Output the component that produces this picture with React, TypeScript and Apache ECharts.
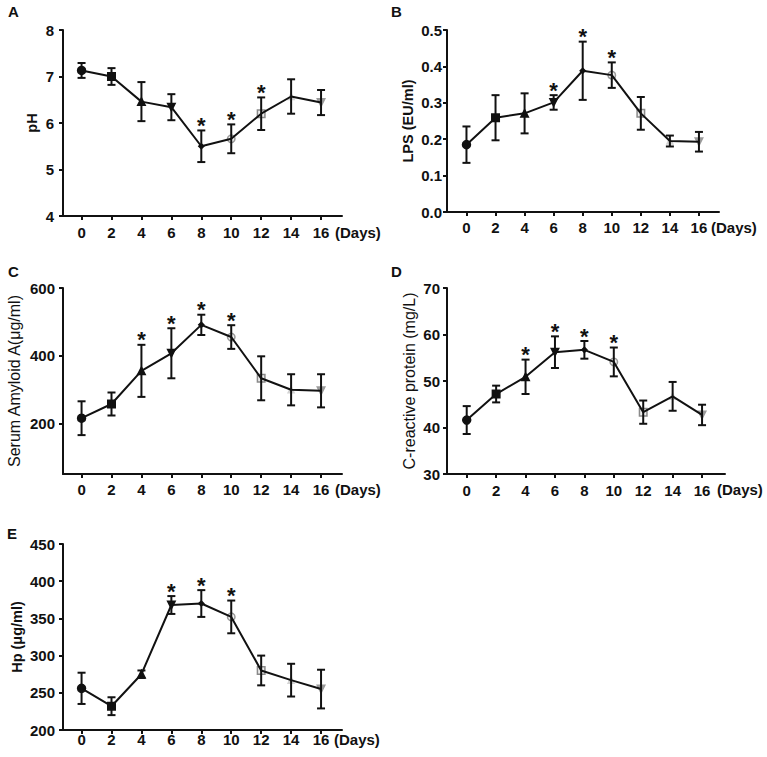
import React, { useEffect, useRef } from "react";
import * as echarts from "echarts";

// ---------- data ----------
const days = [0, 2, 4, 6, 8, 10, 12, 14, 16];

const phMean = [7.13, 7.0, 6.46, 6.34, 5.5, 5.66, 6.2, 6.57, 6.44];
const phErr = [0.16, 0.18, 0.42, 0.28, 0.34, 0.31, 0.35, 0.37, 0.27];
const phSig = [8, 10, 12];

const lpsMean = [0.185, 0.259, 0.271, 0.301, 0.388, 0.376, 0.271, 0.195, 0.193];
const lpsErr = [0.05, 0.062, 0.055, 0.02, 0.08, 0.035, 0.045, 0.015, 0.027];
const lpsSig = [6, 8, 10];

const saaMean = [215, 257, 355, 407, 491, 455, 333, 299, 296];
const saaErr = [50, 34, 77, 74, 30, 35, 65, 46, 49];
const saaSig = [4, 6, 8, 10];

const crpMean = [41.6, 47.2, 50.9, 56.2, 56.7, 54.1, 43.3, 46.7, 42.7];
const crpErr = [3.0, 1.8, 3.7, 3.4, 1.9, 3.1, 2.5, 3.1, 2.2];
const crpSig = [4, 6, 8, 10];

const hpMean = [256, 232, 275, 368, 370, 352, 280, 267, 255];
const hpErr = [21, 12, 5, 12, 18, 22, 20, 22, 26];
const hpSig = [6, 8, 10];

const phTicks = [4, 5, 6, 7, 8];
const lpsTicks = [0, 0.1, 0.2, 0.3, 0.4, 0.5];
const saaTicks = [200, 400, 600];
const crpTicks = [30, 40, 50, 60, 70];
const hpTicks = [200, 250, 300, 350, 400, 450];

// ---------- marker styles (per day) ----------
const markerStyles = [
  { symbol: "circle", size: 8, rotate: 0, fill: "#111", stroke: "#111" },
  { symbol: "rect", size: 7.5, rotate: 0, fill: "#111", stroke: "#111" },
  { symbol: "triangle", size: 7.5, rotate: 0, fill: "#111", stroke: "#111" },
  { symbol: "triangle", size: 7.5, rotate: 180, fill: "#111", stroke: "#111" },
  { symbol: "diamond", size: 5, rotate: 0, fill: "#111", stroke: "#111" },
  { symbol: "circle", size: 7.5, rotate: 0, fill: "#f2f2f2", stroke: "#9a9a9a" },
  { symbol: "rect", size: 7.5, rotate: 0, fill: "#eeeeee", stroke: "#8a8a8a" },
  { symbol: "triangle", size: 6, rotate: 0, fill: "#d4d4d4", stroke: "#d4d4d4" },
  { symbol: "triangle", size: 7.5, rotate: 180, fill: "#9a9a9a", stroke: "#9a9a9a" },
];

const FONT = '"Liberation Sans", Arial, sans-serif';
const INK = "#111";

type Panel = {
  letter: string;
  mean: number[];
  err: number[];
  sig: number[];
  ticks: number[];
  name: string;
  nameBold: boolean;
  nameSize: number;
  nameGap: number;
  ymin: number;
  ymax: number;
  decimals: number;
  left: number;
  top: number;
  width: number;
  height: number;
  xmin: number;
  xmax: number;
  xLabelMargin: number;
  yLabelMargin: number;
  letterPos: [number, number];
  daysPos: [number, number];
};

const panels: Panel[] = [
  {
    letter: "A", mean: phMean, err: phErr, sig: phSig, ticks: phTicks,
    name: "pH", nameBold: true, nameSize: 14.5, nameGap: 24,
    ymin: 4, ymax: 8, decimals: 0,
    left: 63, top: 30, width: 279, height: 186, xmin: -1.24, xmax: 17.4,
    xLabelMargin: 9, yLabelMargin: 9, letterPos: [8, 12], daysPos: [335, 232],
  },
  {
    letter: "B", mean: lpsMean, err: lpsErr, sig: lpsSig, ticks: lpsTicks,
    name: "LPS (EU/ml)", nameBold: true, nameSize: 14.5, nameGap: 32,
    ymin: 0, ymax: 0.5, decimals: 1,
    left: 447, top: 30, width: 272, height: 182, xmin: -1.34, xmax: 17.38,
    xLabelMargin: 8, yLabelMargin: 5, letterPos: [391, 12], daysPos: [711, 227],
  },
  {
    letter: "C", mean: saaMean, err: saaErr, sig: saaSig, ticks: saaTicks,
    name: "Serum Amyloid A(μg/ml)", nameBold: false, nameSize: 16, nameGap: 41,
    ymin: 50, ymax: 600, decimals: 0,
    left: 63, top: 288, width: 279, height: 186, xmin: -1.24, xmax: 17.4,
    xLabelMargin: 8, yLabelMargin: 8, letterPos: [8, 272], daysPos: [335, 489],
  },
  {
    letter: "D", mean: crpMean, err: crpErr, sig: crpSig, ticks: crpTicks,
    name: "C-reactive protein (mg/L)", nameBold: false, nameSize: 16, nameGap: 30,
    ymin: 30, ymax: 70, decimals: 0,
    left: 447, top: 288, width: 278, height: 186, xmin: -1.34, xmax: 17.56,
    xLabelMargin: 9, yLabelMargin: 7, letterPos: [391, 272], daysPos: [717, 489],
  },
  {
    letter: "E", mean: hpMean, err: hpErr, sig: hpSig, ticks: hpTicks,
    name: "Hp (μg/ml)", nameBold: true, nameSize: 14.5, nameGap: 39,
    ymin: 200, ymax: 450, decimals: 0,
    left: 63, top: 544, width: 279, height: 186, xmin: -1.24, xmax: 17.4,
    xLabelMargin: 2, yLabelMargin: 8, letterPos: [7, 534], daysPos: [334, 739],
  },
];

function buildOption() {
  const grid: any[] = [];
  const xAxis: any[] = [];
  const yAxis: any[] = [];
  const series: any[] = [];
  const graphic: any[] = [];

  panels.forEach((p, k) => {
    grid.push({ left: p.left, top: p.top, width: p.width, height: p.height, containLabel: false });
    xAxis.push({
      gridIndex: k,
      type: "value",
      min: p.xmin,
      max: p.xmax,
      splitLine: { show: false },
      axisLine: { show: true, onZero: false, lineStyle: { color: INK, width: 2 } },
      axisTick: { show: true, length: 4, lineStyle: { color: INK, width: 2 }, customValues: days },
      axisLabel: {
        customValues: days,
        margin: p.xLabelMargin,
        color: INK,
        fontFamily: FONT,
        fontWeight: "bold",
        fontSize: 15,
      },
    });
    yAxis.push({
      gridIndex: k,
      type: "value",
      min: p.ymin,
      max: p.ymax,
      name: p.name,
      nameLocation: "middle",
      nameGap: p.nameGap,
      nameTextStyle: {
        color: INK,
        fontFamily: FONT,
        fontWeight: p.nameBold ? "bold" : "normal",
        fontSize: p.nameSize,
      },
      splitLine: { show: false },
      axisLine: { show: true, onZero: false, lineStyle: { color: INK, width: 2 } },
      axisTick: { show: true, length: 4, lineStyle: { color: INK, width: 2 }, customValues: p.ticks },
      axisLabel: {
        customValues: p.ticks,
        margin: p.yLabelMargin,
        color: INK,
        fontFamily: FONT,
        fontWeight: "bold",
        fontSize: 15,
        formatter: (v: number) => v.toFixed(p.decimals),
      },
    });

    // markers
    series.push({
      type: "scatter",
      xAxisIndex: k,
      yAxisIndex: k,
      z: 2,
      data: days.map((d, i) => {
        const m = markerStyles[i];
        return {
          value: [d, p.mean[i]],
          symbol: m.symbol,
          symbolSize: m.size,
          symbolRotate: m.rotate,
          itemStyle: { color: m.fill, borderColor: m.stroke, borderWidth: 1.5, opacity: 1 },
        };
      }),
    });
    // connecting line
    series.push({
      type: "line",
      xAxisIndex: k,
      yAxisIndex: k,
      z: 3,
      symbol: "none",
      lineStyle: { color: INK, width: 2 },
      data: days.map((d, i) => [d, p.mean[i]]),
    });
    // error bars
    series.push({
      type: "custom",
      xAxisIndex: k,
      yAxisIndex: k,
      z: 4,
      clip: false,
      data: days.map((d, i) => [d, p.mean[i], p.err[i]]),
      encode: { x: 0, y: 1 },
      renderItem: (params: any, api: any) => {
        const x = api.value(0);
        const m = api.value(1);
        const e = api.value(2);
        const t = api.coord([x, m + e]);
        const b = api.coord([x, m - e]);
        const s = { stroke: INK, lineWidth: 2 };
        const c = 4;
        return {
          type: "group",
          children: [
            { type: "line", shape: { x1: t[0], y1: t[1], x2: b[0], y2: b[1] }, style: s },
            { type: "line", shape: { x1: t[0] - c, y1: t[1], x2: t[0] + c, y2: t[1] }, style: s },
            { type: "line", shape: { x1: b[0] - c, y1: b[1], x2: b[0] + c, y2: b[1] }, style: s },
          ],
        };
      },
    });
    // significance stars
    series.push({
      type: "custom",
      xAxisIndex: k,
      yAxisIndex: k,
      z: 5,
      clip: false,
      data: p.sig.map((d) => {
        const i = days.indexOf(d);
        return [d, p.mean[i] + p.err[i]];
      }),
      encode: { x: 0, y: 1 },
      renderItem: (params: any, api: any) => {
        const pt = api.coord([api.value(0), api.value(1)]);
        return {
          type: "text",
          x: pt[0],
          y: pt[1] - 5,
          style: {
            text: "*",
            fill: INK,
            fontFamily: FONT,
            fontWeight: "bold",
            fontSize: 22,
            align: "center",
            verticalAlign: "middle",
          },
        };
      },
    });

    graphic.push({
      type: "text",
      left: p.letterPos[0],
      top: p.letterPos[1] - 8,
      style: { text: p.letter, fill: INK, fontFamily: FONT, fontWeight: "bold", fontSize: 15 },
    });
    graphic.push({
      type: "text",
      x: p.daysPos[0],
      y: p.daysPos[1],
      style: {
        text: "(Days)",
        fill: INK,
        fontFamily: FONT,
        fontWeight: "bold",
        fontSize: 15,
        align: "left",
        verticalAlign: "middle",
      },
    });
  });

  return {
    animation: false,
    backgroundColor: "#ffffff",
    grid,
    xAxis,
    yAxis,
    series,
    graphic,
  };
}

export default function App() {
  const ref = useRef<HTMLDivElement>(null);
  useEffect(() => {
    if (!ref.current) return;
    const chart = echarts.init(ref.current, undefined, { renderer: "svg" });
    chart.setOption(buildOption() as any);
    return () => chart.dispose();
  }, []);
  return (
    <div
      ref={ref}
      style={{ position: "fixed", left: 0, top: 0, width: 767, height: 757, background: "#fff" }}
    />
  );
}
